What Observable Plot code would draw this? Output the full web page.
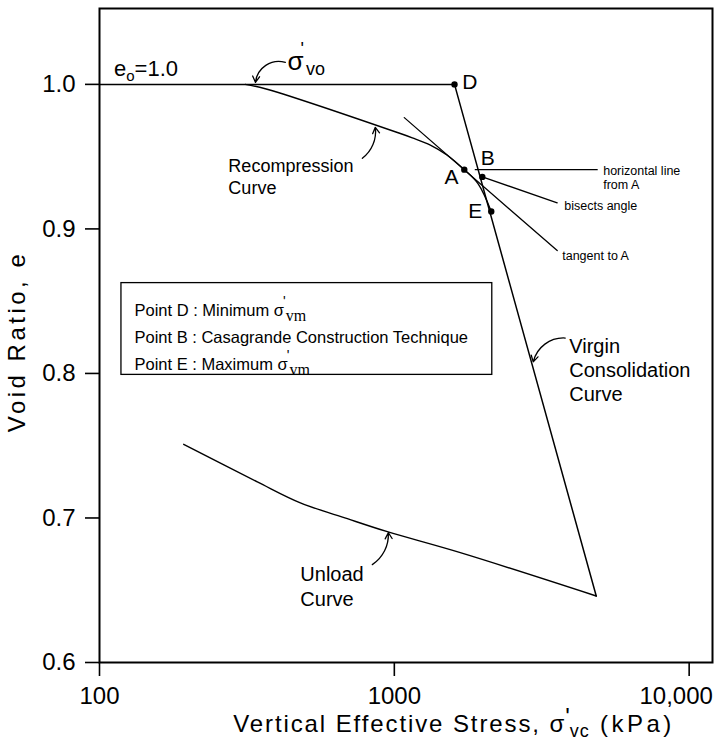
<!DOCTYPE html>
<html><head><meta charset="utf-8">
<script src="https://cdn.jsdelivr.net/npm/d3@7"></script>
<script src="https://cdn.jsdelivr.net/npm/@observablehq/plot@0.6"></script>
<style>
html,body{margin:0;padding:0;background:#fff;}
#chart svg{display:block;}
</style>
</head><body><div id="chart"></div>
<script>
// ---- axis ticks ----
const xTicks = [100, 1000, 10000];
const xTickLabels = ["100", "1000", "10,000"];
const yTicks = [0.6, 0.7, 0.8, 0.9, 1.0];
const yTickLabels = ["0.6", "0.7", "0.8", "0.9", "1.0"];

// ---- curves (stress kPa, void ratio) ----
const e0Stress = [100, 1600];
const e0Void = [1.0, 1.0];

const recompStress = [312, 365, 1048, 1151, 1325, 1512, 1727, 1927, 2132];
const recompVoid = [1.0, 0.997, 0.966, 0.963, 0.958, 0.951, 0.941, 0.931, 0.912];

const virginStress = [1600, 4840];
const virginVoid = [1.0, 0.646];

const unloadStress = [4840, 1674, 947, 693, 480, 343, 193];
const unloadVoid = [0.646, 0.676, 0.6905, 0.6995, 0.7105, 0.725, 0.751];

const tangentStress = [1081, 3568];
const tangentVoid = [0.977, 0.885];

const horizStress = [1882, 4876];
const horizVoid = [0.941, 0.941];

const bisectStress = [1988, 3568];
const bisectVoid = [0.936, 0.918];

// ---- key points ----
const pointNames = ["D", "A", "B", "E"];
const pointStress = [1600, 1727, 1988, 2132];
const pointVoid = [1.0, 0.941, 0.936, 0.912];

// ---- point labels ----
const ptLabelText = ["D", "A", "B", "E"];
const ptLabelStress = [1700, 1564, 2075, 1882];
const ptLabelVoid = [1.0014, 0.9354, 0.9492, 0.9123];
const ptLabelAnchor = ["start", "middle", "middle", "middle"];

// ---- note labels ----
const noteText = ["horizontal line\nfrom A", "bisects angle", "tangent to A"];
const noteStress = [5110, 3770, 3711];
const noteVoid = [0.9357, 0.9164, 0.8819];

// ---- curve labels ----
const curveText = ["Recompression\nCurve", "Virgin\nConsolidation\nCurve", "Unload\nCurve"];
const curveStress = [273.6, 3920, 480];
const curveVoid = [0.9364, 0.8031, 0.6535];

// ---- arrows (from label to curve) ----
const arrowName = ["svo", "recomp", "virgin", "unload"];
const arrowX1 = [427, 779, 3799, 842];
const arrowY1 = [1.0152, 0.9489, 0.8245, 0.6677];
const arrowX2 = [338, 862, 2959, 954];
const arrowY2 = [1.0014, 0.9703, 0.808, 0.6898];

// ---- legend box ----
const legendX = [118.7, 2149];
const legendY = [0.799, 0.8625];
const legendLines = ["Point D : Minimum σ", "Point B : Casagrande Construction Technique", "Point E : Maximum σ"];
const legendLineVoid = [0.8432, 0.8245, 0.8059];
const legendLineStress = 131.4;

// ---- misc labels ----
const e0Label = {stress: 112, void: 1.0107};
const svoLabel = {stress: 434, void: 1.0159};
const xTitle = "Vertical Effective Stress, σ";
const yTitle = "Void Ratio, e";

const zip = (xs, ys) => xs.map((x, i) => ({x, y: ys[i]}));

const FONT = "'Liberation Sans', Arial, Helvetica, sans-serif";

const arrowBends = {svo: -50, recomp: -30, virgin: -40, unload: -30};

const marks = [
  Plot.frame({stroke: "#000", strokeWidth: 2}),
  Plot.line(zip(e0Stress, e0Void), {x: "x", y: "y", stroke: "#000", strokeWidth: 1.5}),
  Plot.line(zip(recompStress, recompVoid), {x: "x", y: "y", stroke: "#000", strokeWidth: 1.4, curve: "catmull-rom"}),
  Plot.line(zip(virginStress, virginVoid), {x: "x", y: "y", stroke: "#000", strokeWidth: 1.5}),
  Plot.line(zip(unloadStress, unloadVoid), {x: "x", y: "y", stroke: "#000", strokeWidth: 1.4, curve: "catmull-rom"}),
  Plot.line(zip(tangentStress, tangentVoid), {x: "x", y: "y", stroke: "#000", strokeWidth: 1.3}),
  Plot.line(zip(horizStress, horizVoid), {x: "x", y: "y", stroke: "#000", strokeWidth: 1.3}),
  Plot.line(zip(bisectStress, bisectVoid), {x: "x", y: "y", stroke: "#000", strokeWidth: 1.3}),
  Plot.dot(pointNames.map((n, i) => ({n, x: pointStress[i], y: pointVoid[i]})), {x: "x", y: "y", r: 3.2, fill: "#000", stroke: "none"}),
  ...ptLabelText.map((t, i) => Plot.text([{t, x: ptLabelStress[i], y: ptLabelVoid[i]}], {x: "x", y: "y", text: "t", fontSize: 21, textAnchor: ptLabelAnchor[i], fill: "#000"})),
  Plot.text(noteText.map((t, i) => ({t, x: noteStress[i], y: noteVoid[i]})), {x: "x", y: "y", text: "t", fontSize: 12.5, lineHeight: 1.12, textAnchor: "start", fill: "#000"}),
  Plot.text([{t: curveText[0], x: curveStress[0], y: curveVoid[0]}], {x: "x", y: "y", text: "t", fontSize: 18, lineHeight: 1.22, textAnchor: "start", fill: "#000"}),
  Plot.text([{t: curveText[1], x: curveStress[1], y: curveVoid[1]}], {x: "x", y: "y", text: "t", fontSize: 20, lineHeight: 1.2, textAnchor: "start", fill: "#000"}),
  Plot.text([{t: curveText[2], x: curveStress[2], y: curveVoid[2]}], {x: "x", y: "y", text: "t", fontSize: 20, lineHeight: 1.25, textAnchor: "start", fill: "#000"}),
  ...arrowName.map((n, i) => Plot.arrow([{x1: arrowX1[i], y1: arrowY1[i], x2: arrowX2[i], y2: arrowY2[i]}], {x1: "x1", y1: "y1", x2: "x2", y2: "y2", bend: arrowBends[n], headLength: 8, strokeWidth: 1.3, stroke: "#000", insetStart: 0, insetEnd: 0})),
  Plot.rect([{x1: legendX[0], x2: legendX[1], y1: legendY[0], y2: legendY[1]}], {x1: "x1", x2: "x2", y1: "y1", y2: "y2", fill: "#fff", stroke: "#000", strokeWidth: 1.3}),
  ...legendLines.map((t, i) => Plot.text([{t, x: legendLineStress, y: legendLineVoid[i]}], {x: "x", y: "y", text: "t", fontSize: 16.5, textAnchor: "start", fill: "#000"})),
  Plot.text([{t: "e", x: e0Label.stress, y: e0Label.void}], {x: "x", y: "y", text: "t", fontSize: 22, textAnchor: "start", fill: "#000"}),
  Plot.text([{t: "σ", x: svoLabel.stress, y: svoLabel.void}], {x: "x", y: "y", text: "t", fontSize: 26, textAnchor: "start", fill: "#000"}),
  Plot.text([xTitle], {frameAnchor: "bottom", text: d => d, fontSize: 24, dy: 69, dx: 48, textAnchor: "middle", fill: "#000"}),
  Plot.text([yTitle], {frameAnchor: "left", text: d => d, fontSize: 24, rotate: -90, dx: -82, dy: 6, textAnchor: "middle", fill: "#000"})
];

const chart = Plot.plot({
  width: 718, height: 744,
  marginLeft: 99, marginRight: 6, marginTop: 8, marginBottom: 82,
  style: {fontFamily: FONT, fontSize: "24px", background: "#fff", color: "#000"},
  x: {type: "log", domain: [100, 12000], ticks: xTicks, tickFormat: d => xTickLabels[xTicks.findIndex(v => Math.abs(v - d) < 1e-6)], tickSize: 14, tickPadding: 10, label: null},
  y: {domain: [0.6, 1.0525], ticks: yTicks, tickFormat: d => yTickLabels[yTicks.findIndex(v => Math.abs(v - d) < 1e-6)], tickSize: 14, tickPadding: 10, label: null},
  marks
});

document.getElementById("chart").appendChild(chart);

// rich text helper (subscripts / primes): finds text elements by their content
function findTexts(content) {
  return Array.from(chart.querySelectorAll("text")).filter(t => t.textContent === content);
}
function rich(content, parts) {
  findTexts(content).forEach(t => {
    while (t.firstChild) t.removeChild(t.firstChild);
    parts.forEach(p => {
      const ts = document.createElementNS("http://www.w3.org/2000/svg", "tspan");
      ts.textContent = p.t;
      if (p.dy != null) ts.setAttribute("dy", p.dy);
      if (p.dx != null) ts.setAttribute("dx", p.dx);
      if (p.fs != null) ts.setAttribute("font-size", p.fs);
      if (p.ff != null) ts.setAttribute("font-family", p.ff);
      if (p.ls != null) ts.setAttribute("letter-spacing", p.ls);
      t.appendChild(ts);
    });
  });
}
const SERIF = "'Liberation Serif', 'DejaVu Serif', serif";
try {
  rich(xTitle, [
    {t: xTitle, ls: 1.9},
    {t: "'", dy: -7, dx: -1},
    {t: "vc", fs: 18, dy: 12, ls: 1},
    {t: " (kPa)", dy: -5, ls: 3.5}
  ]);
  rich(yTitle, [{t: yTitle, ls: 3.5}]);
  rich("e", [
    {t: "e"},
    {t: "o", fs: 15, dy: 5},
    {t: "=1.0", dy: -5}
  ]);
  rich("σ", [
    {t: "σ"},
    {t: "'", fs: 18, dy: -15, dx: -3},
    {t: "vo", fs: 18, dy: 20, dx: 2}
  ]);
  [legendLines[0], legendLines[2]].forEach(l => {
    rich(l, [
      {t: l},
      {t: "'", fs: 14, dy: -10, dx: -1},
      {t: "vm", fs: 16, ff: SERIF, dy: 15, dx: 0}
    ]);
  });
  // keep the 10,000 label inside the picture
  findTexts("10,000").forEach(t => {
    t.setAttribute("dx", -13);
  });
  // axis tick strokes
  chart.querySelectorAll('g[aria-label^="x-axis"] path, g[aria-label^="y-axis"] path, g[aria-label^="x-axis"] line, g[aria-label^="y-axis"] line').forEach(el => el.setAttribute("stroke-width", 1.6));
} catch (e) { console.error(e); }
</script>
</body></html>
